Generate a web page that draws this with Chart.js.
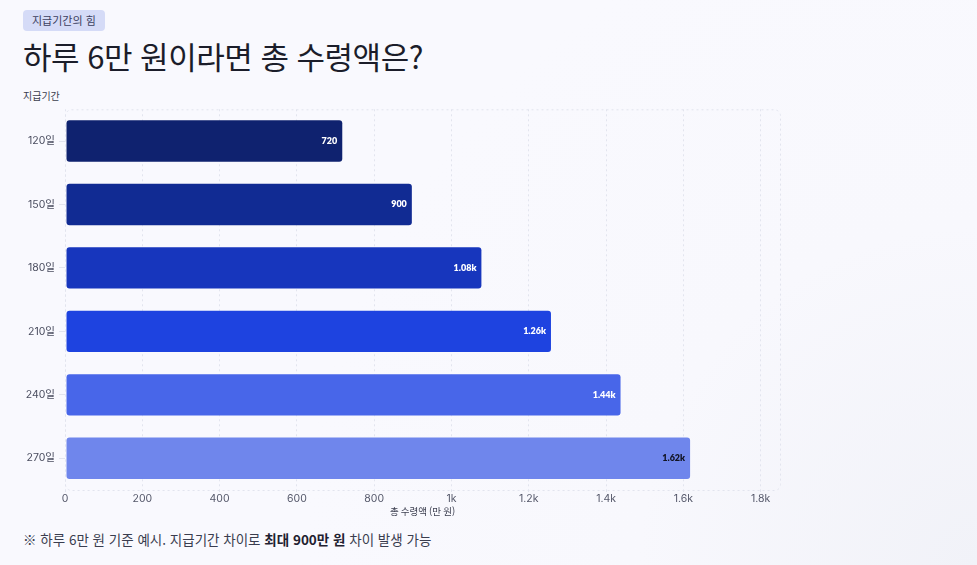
<!DOCTYPE html>
<html lang="ko">
<head>
<meta charset="UTF-8">
<title>하루 6만 원이라면 총 수령액은?</title>
<script src="https://cdn.jsdelivr.net/npm/chart.js"></script>
<style>
  html, body { margin: 0; padding: 0; }
  body {
    width: 977px; height: 565px; overflow: hidden; position: relative;
    background: radial-gradient(circle at 100% 100%, #f1f2f8 0%, #f8f8fd 30%, #f9f9fe 60%);
    font-family: "Noto Sans CJK KR", "Noto Sans", sans-serif;
    color: #1c1e2b;
  }
  .badge {
    position: absolute; left: 23px; top: 10px; height: 21px; line-height: 21px;
    padding: 0 9px; border-radius: 4px; background: #d5dbf7; color: #3c4060; font-size: 11px;
  }
  h1 {
    position: absolute; left: 23px; top: 33px; margin: 0;
    font-size: 31px; font-weight: 400; letter-spacing: -0.5px; color: #1b1d2a;
  }
  .ytitle { position: absolute; left: 23px; top: 88px; font-size: 10px; color: #3b3e4f; }
  .chart { position: absolute; left: 0; top: 99px; width: 790px; height: 418px; }
  .note { position: absolute; left: 23px; top: 529px; font-size: 13.5px; color: #3a3d4f; }
  .note b { color: #1f2130; }
</style>
</head>
<body>
<div class="badge">지급기간의 힘</div>
<h1>하루 6만 원이라면 총 수령액은?</h1>
<div class="ytitle">지급기간</div>
<div class="chart"><canvas id="c"></canvas></div>
<div class="note">※ 하루 6만 원 기준 예시. 지급기간 차이로 <b>최대 900만 원</b> 차이 발생 가능</div>

<script>
const periods = ['120일', '150일', '180일', '210일', '240일', '270일'];
const totals = [720, 900, 1080, 1260, 1440, 1620];
const valueLabels = ['720', '900', '1.08k', '1.26k', '1.44k', '1.62k'];
const xTicks = [0, 200, 400, 600, 800, 1000, 1200, 1400, 1600, 1800];
const xTickLabels = ['0', '200', '400', '600', '800', '1k', '1.2k', '1.4k', '1.6k', '1.8k'];
const barColors = ['#0f226f', '#112b93', '#1736bd', '#1e43e0', '#4866e9', '#6f86ec'];
const labelColors = ['#ffffff', '#ffffff', '#ffffff', '#ffffff', '#ffffff', '#111322'];

const gridColor = '#e2e4ee';

// dashed rounded frame around the plot area
const framePlugin = {
  id: 'frame',
  beforeDatasetsDraw(chart) {
    const a = chart.chartArea, ctx = chart.ctx;
    ctx.save();
    ctx.strokeStyle = gridColor;
    ctx.lineWidth = 1;
    ctx.setLineDash([2, 3]);
    ctx.beginPath();
    ctx.roundRect(a.left + 0.5, a.top + 0.5, a.right - a.left, a.bottom - a.top, 6);
    ctx.stroke();
    ctx.restore();
  }
};

// value labels inside bar ends
const valuePlugin = {
  id: 'values',
  afterDatasetsDraw(chart) {
    const ctx = chart.ctx;
    const meta = chart.getDatasetMeta(0);
    ctx.save();
    ctx.font = '800 9px Lato, "Noto Sans", sans-serif';
    ctx.textAlign = 'right';
    ctx.textBaseline = 'middle';
    meta.data.forEach((bar, i) => {
      ctx.fillStyle = labelColors[i];
      ctx.fillText(valueLabels[i], bar.x - 6, bar.y);
    });
    ctx.restore();
  }
};

new Chart(document.getElementById('c'), {
  type: 'bar',
  data: {
    labels: periods,
    datasets: [{
      data: totals,
      backgroundColor: barColors,
      borderColor: 'rgba(255,255,255,0.25)',
      borderWidth: 1,
      borderRadius: 4,
      borderSkipped: false,
      categoryPercentage: 0.72,
      barPercentage: 0.95
    }]
  },
  options: {
    indexAxis: 'y',
    responsive: true,
    maintainAspectRatio: false,
    animation: false,
    layout: { padding: { left: 15, top: 7, right: 10, bottom: 0 } },
    plugins: { legend: { display: false }, tooltip: { enabled: false } },
    scales: {
      x: {
        min: 0,
        max: 1850,
        afterBuildTicks(scale) { scale.ticks = xTicks.map(v => ({ value: v })); },
        afterFit(scale) { scale.height = 27; },
        grid: { color: gridColor, tickLength: 2, drawTicks: true },
        border: { display: false, dash: [2, 3] },
        ticks: {
          color: '#55586a',
          font: { size: 10.5, family: 'Inter, "Noto Sans", sans-serif' },
          padding: 1,
          callback: (v, i) => xTickLabels[i]
        },
        title: {
          display: true,
          text: '총 수령액 (만 원)',
          color: '#3b3e4f',
          font: { size: 9.5, family: '"Noto Sans CJK KR", sans-serif' },
          padding: { top: 0, bottom: 0 }
        }
      },
      y: {
        afterFit(scale) { scale.width = 50; },
        grid: { offset: false, drawOnChartArea: false, drawTicks: true, tickLength: 6, color: gridColor },
        border: { display: false, dash: [2, 3] },
        ticks: {
          color: '#4a4d5f',
          font: { size: 10.5, family: 'Inter, "Noto Sans CJK KR", sans-serif' },
          padding: 4
        }
      }
    }
  },
  plugins: [framePlugin, valuePlugin]
});
</script>
</body>
</html>
